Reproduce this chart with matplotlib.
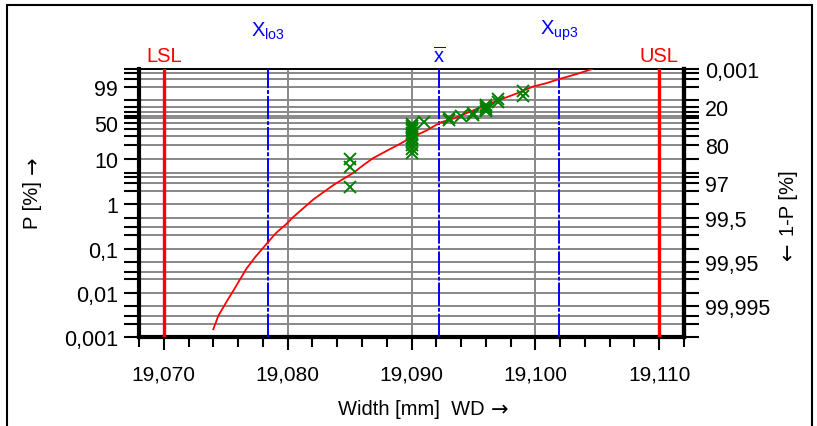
import numpy as np
import matplotlib
matplotlib.use("Agg")
import matplotlib.pyplot as plt
from matplotlib import transforms
from matplotlib.patches import Rectangle
from matplotlib.ticker import FixedLocator, NullLocator, MultipleLocator, FuncFormatter

plt.rcParams['font.family'] = ['Liberation Sans', 'DejaVu Sans']
plt.rcParams['mathtext.fontset'] = 'custom'
plt.rcParams['mathtext.rm'] = 'Liberation Sans'
plt.rcParams['mathtext.it'] = 'Liberation Sans'

# measured widths (sorted) and their plotting positions in %
wd = [19.085, 19.085, 19.085,
      19.090, 19.090, 19.090, 19.090, 19.090, 19.090, 19.090, 19.090, 19.090, 19.090, 19.090,
      19.091, 19.093, 19.093, 19.094, 19.095, 19.095,
      19.096, 19.096, 19.096, 19.096, 19.097, 19.097, 19.099, 19.099]
p_pct = [2.4, 6.8, 10.2,
         13.5, 16.5, 20.0, 23.5, 27.0, 30.5, 34.0, 37.5, 41.0, 44.5, 48.0,
         51.8, 55.3, 58.8, 62.3, 65.8, 69.4,
         72.9, 76.4, 79.9, 83.5, 87.0, 90.5, 94.0, 97.5]

# fitted distribution line
fit_wd = [19.0740, 19.0744, 19.0751, 19.0756, 19.0762, 19.0767, 19.0774, 19.0781,
          19.0786, 19.0791, 19.0799, 19.0804, 19.0821, 19.0837, 19.0845, 19.0853,
          19.0861, 19.0869, 19.0880, 19.0891, 19.0900, 19.0912, 19.0923, 19.0935,
          19.0947, 19.0959, 19.0971, 19.0985, 19.0998, 19.1009, 19.1020, 19.1033,
          19.1046]
fit_p = [0.0015, 0.003, 0.0065, 0.011, 0.021, 0.036, 0.065, 0.11,
         0.16, 0.23, 0.36, 0.5, 1.3, 2.7, 3.7, 5.0,
         7.4, 10.5, 15.0, 21.0, 28.0, 37.2, 50.6, 59.0,
         71.0, 81.5, 90.0, 96.0, 99.0, 99.6, 99.9, 99.985,
         99.999]

lsl, usl = 19.070, 19.110
x_lo3, x_mean, x_up3 = 19.0784, 19.0922, 19.1019

grid_p = [0.001, 0.002, 0.003, 0.005, 0.01, 0.02, 0.03, 0.05, 0.1, 0.2, 0.3, 0.5,
          1, 2, 3, 4, 5, 10, 20, 30, 40, 50, 60, 63.2, 70, 80, 90, 99, 99.9, 99.99, 99.999]
left_labels = {0.001: '0,001', 0.01: '0,01', 0.1: '0,1', 1: '1', 10: '10', 50: '50', 99: '99'}
right_labels = {99.999: '0,001', 80: '20', 20: '80', 3: '97', 0.5: '99,5', 0.05: '99,95', 0.005: '99,995'}


def weib_fwd(p):
    # Weibull probability paper: ln(-ln(1-P))
    p = np.clip(np.asarray(p, dtype=float), 1e-10, 100 - 1e-10) / 100.0
    return np.log(-np.log(1.0 - p))


def weib_inv(w):
    return 100.0 * (1.0 - np.exp(-np.exp(np.asarray(w, dtype=float))))


fig = plt.figure(figsize=(8.17, 4.27), dpi=100)
ax = fig.add_axes([139 / 817, 1 - 338 / 427, (684 - 139) / 817, (338 - 70) / 427])
ax.set_yscale('function', functions=(weib_fwd, weib_inv))
ax.set_ylim(0.001, 99.999)
ax.set_xlim(19.068, 19.112)

grey = '#888888'
for g in grid_p:
    ax.axhline(g, color=grey, lw=1.4, zorder=1)
for xv in [19.080, 19.090, 19.100]:
    ax.axvline(xv, color=grey, lw=1.4, zorder=1)

for xv in [lsl, usl]:
    ax.axvline(xv, color='#ff0000', lw=2.4, zorder=3)
for xv in [x_lo3, x_mean, x_up3]:
    ax.axvline(xv, color='#0000ff', lw=1.4, ls=(0, (12, 1, 2, 1)), zorder=3)

ax.plot(fit_wd, fit_p, color='#ff0000', lw=1.3, zorder=4)
ax.plot(wd, p_pct, 'x', color='#008000', ms=9, mew=1.4, zorder=5)

# axes styling
ax.yaxis.set_major_locator(FixedLocator(grid_p))
ax.yaxis.set_minor_locator(NullLocator())
ax.set_yticklabels([left_labels.get(g, '') for g in grid_p])
ax.xaxis.set_major_locator(MultipleLocator(0.010))
ax.xaxis.set_minor_locator(MultipleLocator(0.002))
ax.xaxis.set_major_formatter(FuncFormatter(lambda v, pos: f'{v:.3f}'.replace('.', ',')))
ax.tick_params(axis='y', which='major', length=11, width=1.5, pad=4, labelsize=15.5)
ax.tick_params(axis='x', which='major', length=9, width=1.5, pad=11, labelsize=15)
ax.tick_params(axis='x', which='minor', length=7, width=1.5)
for s in ['left', 'bottom', 'right']:
    ax.spines[s].set_linewidth(3)
ax.spines['top'].set_linewidth(1.4)

ax2 = ax.twinx()
ax2.set_yscale('function', functions=(weib_fwd, weib_inv))
ax2.set_ylim(0.001, 99.999)
ax2.yaxis.set_major_locator(FixedLocator(grid_p))
ax2.yaxis.set_minor_locator(NullLocator())
ax2.set_yticklabels([right_labels.get(g, '') for g in grid_p])
ax2.tick_params(axis='y', which='major', length=11, width=1.5, pad=4, labelsize=15.5)
for s in ['left', 'bottom', 'top']:
    ax2.spines[s].set_visible(False)
ax2.spines['right'].set_linewidth(3)

# annotations above the plot
tr = transforms.blended_transform_factory(ax.transData, fig.transFigure)
ax.text(lsl, 1 - 57 / 427, 'LSL', color='#ff0000', fontsize=14.5, ha='center', va='center', transform=tr)
ax.text(usl, 1 - 57 / 427, 'USL', color='#ff0000', fontsize=14.5, ha='center', va='center', transform=tr)
ax.text(x_lo3, 1 - 31 / 427, r'$\mathregular{X_{lo3}}$', color='#0000ff', fontsize=14.5,
        ha='center', va='center', transform=tr)
ax.text(x_up3, 1 - 31 / 427, r'$\mathregular{X_{up3}}$', color='#0000ff', fontsize=14.5,
        ha='center', va='center', transform=tr)
ax.text(x_mean, 1 - 56 / 427, r'$\overline{\mathregular{x}}$', color='#0000ff', fontsize=14.5,
        ha='center', va='center', transform=tr)

# axis titles, arrows drawn in DejaVu Sans
arrow_font = dict(fontsize=15, family='DejaVu Sans')
t_x = fig.text(411 / 817, 1 - 410 / 427, 'Width [mm]  WD', fontsize=14.5, ha='center', va='center')
ax.annotate('\u2192', xy=(1, 0.5), xycoords=t_x, xytext=(5, 0), textcoords='offset points',
            ha='left', va='center', **arrow_font)

t_l = fig.text(33 / 817, 1 - 205 / 427, 'P [%]', fontsize=14.5, rotation=90, ha='center', va='center')
ax.annotate('\u2192', xy=(0.5, 1), xycoords=t_l, xytext=(0, 5), textcoords='offset points',
            ha='center', va='bottom', rotation=90, **arrow_font)

t_r = fig.text(788 / 817, 1 - 203 / 427, '1-P [%]', fontsize=14.5, rotation=90, ha='center', va='center')
ax.annotate('\u2190', xy=(0.5, 0), xycoords=t_r, xytext=(0, -5), textcoords='offset points',
            ha='center', va='top', rotation=90, **arrow_font)

fig.patches.append(Rectangle((7 / 817, -10 / 427), 805 / 817, 431 / 427, transform=fig.transFigure,
                             fill=False, edgecolor='black', lw=1.5))

fig.savefig('out.png', dpi=100)
